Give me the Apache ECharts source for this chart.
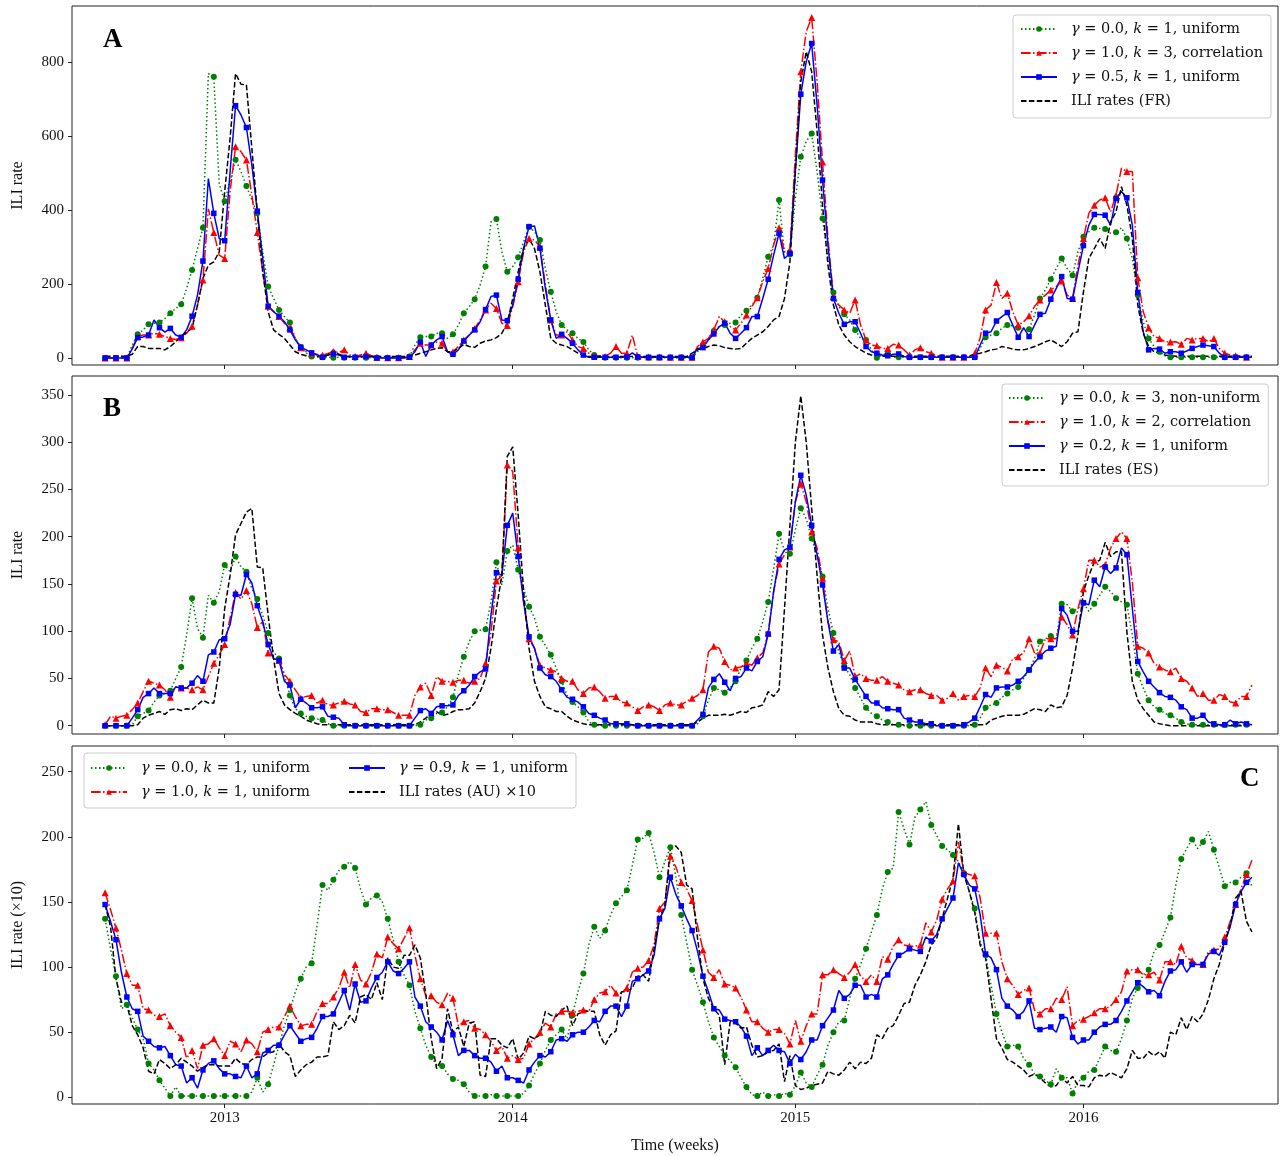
<!DOCTYPE html>
<html><head><meta charset="utf-8">
<script src="https://cdn.jsdelivr.net/npm/echarts@6/dist/echarts.min.js"></script>
<style>html,body{margin:0;padding:0;background:#fff}#c{width:1280px;height:1156px}</style>
</head><body><div id="c"></div>
<script>
// ---- tick labels ----
const yearTicks = [22, 75, 127, 180];
const yearLabels = ['2013', '2014', '2015', '2016'];
const yTicksA = [0, 200, 400, 600, 800];
const yTicksB = [0, 50, 100, 150, 200, 250, 300, 350];
const yTicksC = [0, 50, 100, 150, 200, 250];

// ---- Panel A (FR) ----
const gA = [0,0,0,0,0,35,64,76,91,94,
96,107,121,134,145,188,238,296,352,769,
760,470,424,477,536,504,465,427,391,287,
193,161,130,112,96,53,30,13,4,3,
2,2,1,2,1,2,1,2,1,1,
1,1,1,1,1,1,4,35,56,58,
58,67,67,53,64,89,121,139,159,197,
247,368,376,287,233,247,272,314,355,341,
319,242,179,125,89,76,67,53,43,22,
8,4,1,1,1,1,1,1,1,1,
1,1,1,1,0,0,0,0,0,17,
35,53,73,85,89,94,96,116,128,143,
163,215,274,305,427,283,280,431,544,585,
607,504,377,269,177,139,118,103,76,53,
49,22,1,8,13,2,2,2,2,2,
2,2,2,2,2,2,2,2,2,2,
2,26,56,62,67,80,89,87,82,76,
78,116,161,184,213,242,269,242,224,287,
328,341,352,350,349,337,340,352,323,269,
170,98,53,31,17,6,2,2,2,2,
2,2,2,2,2,2,2,2,2,2,
2,2];
const rA = [0,0,0,0,0,26,58,62,62,67,
64,58,53,50,55,67,86,143,211,403,
339,278,269,450,571,558,535,440,339,233,
140,126,112,94,82,53,28,17,13,10,
8,12,17,15,22,8,4,8,13,6,
2,1,1,1,1,1,4,22,40,35,
35,43,40,17,17,31,49,62,80,103,
130,148,134,94,88,139,206,287,323,319,
301,197,103,62,62,71,49,31,26,13,
6,6,4,13,31,13,13,62,4,3,
3,3,3,3,2,2,2,2,2,31,
43,53,76,112,98,85,76,94,116,139,
163,206,242,305,352,287,292,549,774,882,
920,747,530,323,166,143,130,121,157,89,
49,35,33,26,26,37,35,22,8,22,
28,17,13,6,2,2,2,2,2,2,
12,55,130,143,204,161,175,125,89,98,
114,139,157,170,184,193,208,170,161,251,
323,391,413,427,433,395,440,513,504,504,
217,125,82,58,53,44,43,44,37,53,
49,53,53,44,53,26,13,8,6,4,
2,2];
const bA = [0,0,0,0,0,25,55,57,62,103,
82,70,80,62,56,76,113,170,262,485,
391,323,317,504,682,657,623,522,397,270,
140,125,113,98,76,49,29,22,14,8,
2,8,11,8,2,4,2,4,4,4,
0,0,0,0,0,0,2,17,43,4,
35,49,58,17,10,22,46,62,76,98,
131,166,170,103,101,143,213,297,355,357,
297,188,103,53,64,53,40,22,8,2,
2,2,2,2,2,2,3,14,3,2,
2,2,2,2,2,2,2,2,2,26,
28,49,65,85,94,67,53,67,82,112,
112,161,213,278,337,269,283,504,713,801,
850,684,481,305,161,121,91,98,98,67,
31,17,13,8,6,10,11,4,2,2,
2,2,2,2,2,2,2,2,2,2,
2,35,67,71,100,112,123,89,56,82,
58,89,118,121,159,188,220,161,159,233,
304,359,388,388,386,359,431,450,433,359,
177,71,22,26,24,13,17,17,13,19,
26,31,35,33,31,13,2,2,2,2,
2,2];
const kA = [5,5,5,5,5,10,31,31,26,26,
26,22,31,44,58,70,80,143,215,251,
260,287,450,594,769,740,738,567,395,233,
125,76,64,53,35,17,10,6,4,4,
4,8,22,10,5,4,4,4,4,4,
4,4,4,4,4,4,4,8,13,17,
22,26,28,17,17,26,37,31,29,40,
46,49,55,67,94,161,233,296,323,296,
233,143,53,40,35,31,22,13,8,4,
4,4,4,4,4,4,4,4,4,4,
4,4,4,4,4,4,4,4,13,22,
26,31,35,33,28,26,24,26,40,53,
62,71,85,103,112,161,260,504,747,828,
774,612,413,251,143,89,62,44,31,22,
13,8,6,5,5,5,5,5,5,5,
5,5,5,5,5,5,5,5,5,5,
11,13,17,22,24,31,28,24,22,22,
26,31,37,44,49,40,31,44,67,71,
179,269,296,323,296,368,395,463,413,323,
143,67,31,17,13,8,6,5,5,5,
5,5,5,5,5,5,5,5,5,5,
5,5];

// ---- Panel B (ES) ----
const gB = [0,0,0,0,0,1,10,13,16,25,
32,34,37,50,62,96,135,103,93,138,
130,142,170,163,179,168,163,145,134,117,
98,78,71,54,32,18,13,10,8,7,
6,2,0,0,0,0,0,0,0,0,
0,0,0,0,0,0,0,0,1,6,
8,13,14,20,30,54,73,89,100,101,
102,131,173,149,185,191,165,145,126,114,
94,85,75,61,47,32,25,20,14,4,
1,0,0,0,0,0,0,0,0,0,
0,0,0,0,0,0,0,0,0,2,
10,27,40,38,35,40,47,61,69,82,
92,110,131,166,203,185,182,207,230,219,
198,181,158,124,98,78,63,54,40,29,
19,13,10,6,4,1,1,0,0,0,
0,0,0,0,0,0,0,0,0,0,
1,8,19,22,24,30,34,38,41,50,
59,71,89,92,95,92,129,128,121,124,
130,121,129,138,147,142,135,131,128,96,
55,40,27,20,17,13,11,8,4,2,
1,1,1,1,1,1,1,1,1,1,
1,1];
const rB = [1,10,8,10,11,17,24,36,47,45,
43,38,30,41,40,40,38,41,38,52,
66,75,86,114,141,134,143,129,104,110,
77,73,69,54,47,38,29,31,32,24,
27,22,22,24,26,23,22,15,14,18,
18,17,17,14,11,11,11,32,41,45,
32,52,47,47,46,48,48,45,47,50,
66,99,153,159,276,269,188,131,92,82,
64,61,59,57,50,47,47,38,34,40,
41,36,29,31,31,25,24,20,16,20,
22,20,16,22,24,22,22,26,29,32,
38,78,84,82,68,59,61,62,66,64,
72,77,98,142,171,181,189,237,256,237,
205,188,156,110,91,89,69,79,52,55,
50,48,48,52,47,45,43,38,36,38,
38,34,32,32,27,29,34,27,31,32,
31,40,61,52,64,62,58,71,73,77,
92,77,77,92,92,92,115,107,96,124,
145,175,175,168,170,188,198,205,198,152,
84,82,77,66,62,59,57,61,50,47,
40,31,34,27,27,33,31,25,24,31,
31,43];
const bB = [0,0,0,0,0,8,17,30,34,40,
34,34,34,41,40,40,45,53,47,75,
78,91,92,107,139,138,160,151,127,110,
86,71,69,47,43,19,28,24,19,19,
20,10,9,8,1,0,0,0,0,0,
0,0,0,0,0,0,0,8,16,18,
13,20,21,21,22,32,37,43,52,57,
60,117,162,159,212,225,179,131,94,82,
61,54,52,47,38,30,28,25,20,13,
11,8,6,2,2,2,2,1,0,0,
0,0,0,0,0,0,0,0,0,6,
12,40,49,55,46,37,50,52,61,58,
68,73,97,142,176,186,189,237,265,244,
212,181,149,110,79,86,61,61,49,40,
31,24,24,19,18,17,17,8,6,4,
4,2,2,0,0,0,0,0,1,4,
8,20,33,30,40,41,41,43,47,52,
59,67,73,79,82,84,124,117,100,100,
130,128,154,147,168,161,167,188,181,124,
68,57,47,41,35,31,30,27,20,17,
8,8,11,4,2,1,1,6,2,4,
2,1];
const kB = [0,0,0,0,0,0,1,8,11,13,
15,12,17,18,16,18,17,22,27,24,
24,61,124,159,202,214,226,230,168,167,
117,71,34,22,17,13,10,6,4,2,
1,1,1,1,1,1,1,1,1,1,
1,1,1,1,1,1,1,1,4,8,
13,15,11,12,15,17,17,18,24,36,
50,82,124,159,285,295,223,142,82,47,
31,20,18,15,15,10,6,4,2,1,
1,1,1,1,1,1,1,1,1,1,
1,1,1,1,1,1,1,1,1,4,
8,11,11,11,12,11,13,15,14,19,
20,22,36,31,38,124,212,300,349,300,
230,159,96,61,36,18,11,10,6,4,
4,4,2,1,1,1,1,1,1,1,
1,1,1,1,1,1,1,1,1,1,
1,1,1,6,8,10,11,11,11,12,
15,18,17,15,22,19,20,32,61,96,
142,159,173,175,194,179,184,184,99,47,
27,18,11,4,2,1,0,0,0,0,
0,0,0,0,0,0,0,0,0,0,
0,0];

// ---- Panel C (AU, x10) ----
const gC = [137,114,93,68,71,61,52,45,26,21,
13,7,1,8,1,1,1,1,1,1,
1,1,1,1,1,1,1,4,15,4,
10,25,40,55,67,81,91,100,103,132,
163,159,167,174,177,181,176,160,148,153,
155,150,137,121,104,94,86,66,53,40,
31,25,24,18,14,13,10,4,1,1,
1,2,1,1,1,1,1,3,9,18,
26,36,44,48,52,45,63,81,95,117,
131,122,128,140,149,154,159,178,198,199,
203,188,169,181,192,170,140,119,98,86,
73,58,46,39,32,28,23,15,8,2,
1,4,1,2,1,3,2,9,19,11,
8,17,25,40,50,58,59,76,91,102,
114,127,140,160,173,176,219,206,194,215,
221,227,209,201,193,190,186,181,172,158,
145,119,109,86,64,50,39,40,39,30,
25,18,16,13,10,22,15,15,3,12,
15,20,21,30,39,36,35,45,59,76,
84,94,98,112,117,127,138,163,183,191,
198,191,196,204,190,176,162,165,165,169,
172,162];
const rC = [157,144,130,113,95,86,86,68,67,63,
62,64,55,50,46,30,36,22,40,41,
45,38,32,43,41,35,44,41,35,50,
52,54,54,62,70,62,55,56,56,66,
72,72,77,84,96,84,102,90,87,96,
110,107,123,118,114,122,130,109,91,78,
78,73,71,80,76,55,58,59,53,52,
48,43,36,39,30,32,29,30,41,45,
50,57,54,64,66,66,65,66,67,66,
75,80,81,86,80,80,84,96,99,100,
105,117,145,150,185,177,165,160,151,132,
113,96,92,98,87,86,84,77,67,58,
58,53,50,52,52,49,41,59,43,55,
64,64,94,94,98,95,92,96,102,93,
89,94,89,108,106,116,121,117,116,116,
117,134,127,136,152,160,166,196,173,171,
170,153,126,126,126,104,91,86,79,82,
84,67,64,68,68,76,75,85,55,59,
60,62,65,68,68,70,75,81,97,98,
98,94,94,96,90,104,104,102,116,107,
105,102,102,112,113,114,123,135,148,160,
171,182];
const bC = [148,135,121,96,77,68,66,47,43,39,
38,39,32,25,24,11,15,7,21,26,
28,22,18,18,16,15,24,15,18,34,
36,40,40,48,55,49,43,45,46,53,
62,62,64,73,82,67,87,73,74,84,
92,96,104,97,95,99,104,77,70,58,
54,50,44,59,48,32,36,36,32,30,
30,27,20,24,15,15,13,11,21,27,
32,31,35,44,45,43,48,50,50,54,
59,58,66,70,70,62,70,89,91,94,
97,109,137,145,169,156,147,137,128,112,
93,81,68,67,60,59,58,54,47,32,
38,32,36,40,36,35,26,33,29,35,
44,44,55,61,67,82,76,79,86,86,
77,79,77,91,94,102,109,111,114,113,
112,123,120,125,137,145,153,180,171,163,
160,140,110,107,98,76,70,67,62,66,
74,53,52,53,54,50,62,61,46,41,
44,44,50,54,56,56,59,66,74,81,
88,85,81,82,78,89,97,98,104,96,
102,102,102,110,112,109,119,131,148,158,
165,169];
const kC = [148,131,91,73,71,55,48,38,20,18,
29,26,22,25,30,27,24,20,23,25,
25,24,24,24,30,26,25,29,31,31,
34,35,41,35,32,16,21,25,27,31,
31,32,58,52,55,63,57,77,79,75,
88,75,107,100,99,109,109,117,107,79,
45,22,30,68,50,54,39,57,58,17,
16,45,45,40,38,45,29,34,47,45,
48,66,63,62,67,70,55,64,66,66,
66,48,40,48,51,81,81,84,93,94,
89,114,137,148,191,193,188,163,160,122,
91,76,68,63,25,58,57,53,54,40,
31,32,35,36,41,12,32,9,6,7,
9,10,11,20,18,17,21,27,22,27,
26,30,48,45,53,55,63,72,73,86,
94,104,117,122,137,153,168,210,171,158,
142,117,107,76,45,38,29,27,24,21,
16,18,15,11,8,9,15,11,16,9,
9,8,15,17,16,19,17,15,22,36,
30,30,35,32,35,30,50,48,61,52,
62,58,64,75,91,102,119,132,153,158,
135,127];

const weeks = gA.map((_, i) => i);

// ---- styling ----
const F = "'Liberation Serif','DejaVu Serif',serif";
const FL = "'DejaVu Serif','Liberation Serif',serif";
const TXT = '#111';
const GREEN = '#008000', RED = '#ff0000', BLUE = '#0000ff', BLACK = '#000000';
const STY = {
  g: {color: GREEN, dash: [1.5, 2.5], symbol: 'circle', size: 6},
  r: {color: RED, dash: [9.6, 2.4, 1.5, 2.4], symbol: 'triangle', size: 7},
  b: {color: BLUE, dash: 'solid', symbol: 'rect', size: 5.5},
  k: {color: BLACK, dash: [5.5, 2.4], symbol: 'none', size: 0}
};

function ser(name, vals, gi, key) {
  const s = STY[key];
  return {
    name: name, type: 'line', xAxisIndex: gi, yAxisIndex: gi,
    data: vals.map((v, i) => [weeks[i], v]),
    symbol: s.symbol,
    symbolSize: s.symbol === 'none' ? 0 : function (v, p) { return p.dataIndex % 2 === 0 ? s.size : 0; },
    showSymbol: s.symbol !== 'none', showAllSymbol: true,
    lineStyle: {color: s.color, width: 1.5, type: s.dash},
    itemStyle: {color: s.color},
    emphasis: {disabled: true},
    animation: false, clip: true
  };
}

function xAx(gi, showLabel) {
  return {
    type: 'value', gridIndex: gi, min: -6.09, max: 215.8,
    axisLine: {show: false, onZero: false}, splitLine: {show: false},
    axisTick: {show: true, length: 4, lineStyle: {color: '#222', width: 1}, customValues: yearTicks},
    axisLabel: {show: showLabel, customValues: yearTicks,
      formatter: function (v) { const k = yearTicks.indexOf(v); return k >= 0 ? yearLabels[k] : ''; },
      fontFamily: F, fontSize: 15, color: TXT, margin: 7},
    name: showLabel ? 'Time (weeks)' : '', nameLocation: 'middle', nameGap: 34,
    nameTextStyle: {fontFamily: F, fontSize: 16, color: TXT}
  };
}
function yAx(gi, min, max, ticks, name) {
  return {
    type: 'value', gridIndex: gi, min: min, max: max,
    axisLine: {show: false, onZero: false}, splitLine: {show: false},
    axisTick: {show: true, length: 4, lineStyle: {color: '#222', width: 1}, customValues: ticks},
    axisLabel: {customValues: ticks, fontFamily: F, fontSize: 15, color: TXT, margin: 8},
    name: name, nameLocation: 'middle', nameGap: 46,
    nameTextStyle: {fontFamily: F, fontSize: 16, color: TXT}
  };
}
function grid(top, h) {
  return {left: 72, top: top, width: 1206, height: h, show: true, borderColor: '#222', borderWidth: 1, backgroundColor: 'transparent'};
}

const LF = 14.5;
const RICH = {
  sp: {width: 9, fontFamily: FL, fontSize: LF, lineHeight: 16},
  i: {fontFamily: FL, fontSize: LF, fontStyle: 'italic', color: TXT, lineHeight: 16},
  r: {fontFamily: FL, fontSize: LF, color: TXT, lineHeight: 16}
};
function lab(g, k, kind) {
  return '{sp|}{i|\u03b3}{r| = ' + g + ', }{i|k}{r| = ' + k + ', ' + kind + '}';
}
const LABELS = {
  gA: lab('0.0', 1, 'uniform'), rA: lab('1.0', 3, 'correlation'), bA: lab('0.5', 1, 'uniform'), kA: '{sp|}{r|ILI rates (FR)}',
  gB: lab('0.0', 3, 'non-uniform'), rB: lab('1.0', 2, 'correlation'), bB: lab('0.2', 1, 'uniform'), kB: '{sp|}{r|ILI rates (ES)}',
  gC: lab('0.0', 1, 'uniform'), rC: lab('1.0', 1, 'uniform'), bC: lab('0.9', 1, 'uniform'), kC: '{sp|}{r|ILI rates (AU) \u00d710}'
};
function legBase(extra) {
  return Object.assign({
    formatter: function (n) { return LABELS[n]; },
    textStyle: {fontFamily: FL, fontSize: LF, color: TXT, lineHeight: 16, rich: RICH},
    itemWidth: 36, itemHeight: 7, itemGap: 8,
    borderColor: '#cccccc', borderWidth: 1, borderRadius: 3,
    backgroundColor: 'rgba(255,255,255,0.85)', selectedMode: false, inactiveColor: TXT
  }, extra);
}
const hideSym = {color: 'rgba(0,0,0,0)', borderColor: 'rgba(0,0,0,0)', borderWidth: 0};

const option = {
  backgroundColor: '#ffffff',
  animation: false,
  title: [
    {text: 'A', left: 98, top: 22, textStyle: {fontFamily: F, fontSize: 27, fontWeight: 'bold', color: '#000'}},
    {text: 'B', left: 98, top: 391, textStyle: {fontFamily: F, fontSize: 27, fontWeight: 'bold', color: '#000'}},
    {text: 'C', left: 1235, top: 761, textStyle: {fontFamily: F, fontSize: 27, fontWeight: 'bold', color: '#000'}}
  ],
  grid: [grid(6, 359), grid(376, 358), grid(746, 358)],
  xAxis: [xAx(0, false), xAx(1, false), xAx(2, true)],
  yAxis: [
    yAx(0, -18.9, 951.4, yTicksA, 'ILI rate'),
    yAx(1, -8.78, 370.05, yTicksB, 'ILI rate'),
    yAx(2, -5.14, 269.7, yTicksC, 'ILI rate (\u00d710)')
  ],
  legend: [
    legBase({orient: 'vertical', left: 1013, top: 15, padding: [6, 8, 9, 7],
      data: ['gA', 'rA', 'bA', {name: 'kA', itemStyle: hideSym}]}),
    legBase({orient: 'vertical', left: 1002, top: 384, padding: [6, 8, 8, 6],
      data: ['gB', 'rB', 'bB', {name: 'kB', itemStyle: hideSym}]}),
    legBase({orient: 'horizontal', left: 84, top: 753, width: 520, padding: [7, 8, 8, 6],
      data: [{name: 'gC', textStyle: {width: 208}}, 'bC', {name: 'rC', textStyle: {width: 208}}, {name: 'kC', itemStyle: hideSym}]})
  ],
  series: [
    ser('gA', gA, 0, 'g'), ser('rA', rA, 0, 'r'), ser('bA', bA, 0, 'b'), ser('kA', kA, 0, 'k'),
    ser('gB', gB, 1, 'g'), ser('rB', rB, 1, 'r'), ser('bB', bB, 1, 'b'), ser('kB', kB, 1, 'k'),
    ser('gC', gC, 2, 'g'), ser('rC', rC, 2, 'r'), ser('bC', bC, 2, 'b'), ser('kC', kC, 2, 'k')
  ]
};

const chart = echarts.init(document.getElementById('c'), null, {renderer: 'canvas'});
chart.setOption(option);

const all = {gA, rA, bA, kA, gB, rB, bB, kB, gC, rC, bC, kC};
const bad = Object.keys(all).filter(k => all[k].length !== 212).map(k => k + ':' + all[k].length);
if (bad.length) { setTimeout(function () { throw new Error('Length mismatch ' + bad.join(',')); }, 0); }
</script>
</body></html>
